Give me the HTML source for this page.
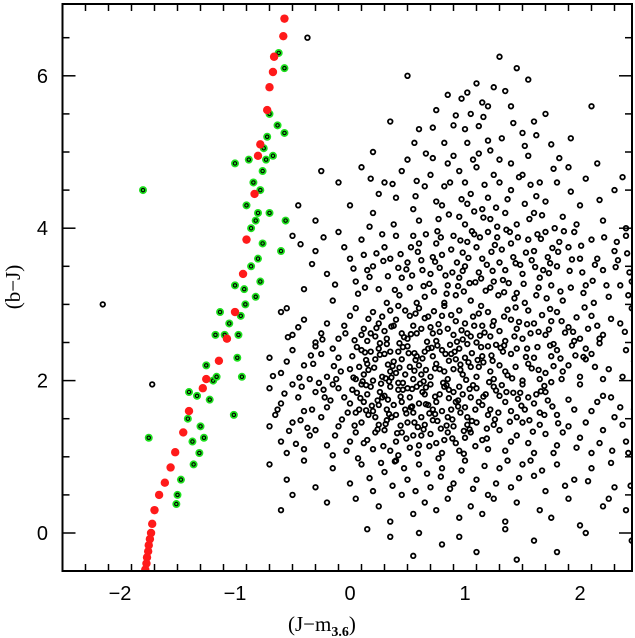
<!DOCTYPE html>
<html><head><meta charset="utf-8"><style>
html,body{margin:0;padding:0;background:#fff;}
svg{display:block;}
text{font-family:"Liberation Sans",sans-serif;fill:#000;}
</style></head><body>
<svg id="chart" width="635" height="638" viewBox="0 0 635 638" xmlns="http://www.w3.org/2000/svg">
<defs><clipPath id="clip"><rect x="62.5" y="4" width="569.5" height="567"/></clipPath></defs>
<g id="pts-black" clip-path="url(#clip)"></g>
<g id="pts-green" clip-path="url(#clip)"></g>
<g id="pts-red" clip-path="url(#clip)"></g>
<g id="axes"></g>
<text x="288" y="631" font-size="21" style="font-family:'Liberation Serif',serif">(J−m<tspan font-size="14" dy="5" font-weight="bold">3.6</tspan><tspan dy="-5">)</tspan></text>
<text transform="translate(20,287) rotate(-90)" text-anchor="middle" font-size="21" style="font-family:'Liberation Serif',serif">(b−J)</text>
</svg>
<script>
const xTicks=[-2,-1,0,1,2];
const yTicks=[0,2,4,6];
const redX=[-1.78,-1.77,-1.765,-1.755,-1.75,-1.74,-1.73,-1.72,-1.70,-1.66,-1.61,-1.56,-1.52,-1.45,-1.40,-1.28,-1.25,-1.14,-1.07,-1.00,-0.93,-0.90,-0.83,-0.80,-0.78,-0.72,-0.70,-0.67,-0.66,-0.58,-0.57];
const redY=[-0.48,-0.40,-0.32,-0.24,-0.16,-0.08,0.0,0.12,0.3,0.5,0.66,0.86,1.06,1.32,1.6,1.9,2.02,2.26,2.55,2.9,3.4,3.85,4.45,4.95,5.1,5.55,5.85,6.05,6.25,6.52,6.75];
const greenX=[-1.8,-1.75,-1.51,-1.50,-1.47,-1.36,-1.31,-1.27,-1.37,-1.41,-1.40,-1.33,-1.22,-1.19,-1.16,-1.17,-1.09,-1.01,-0.97,-0.95,-1.13,-1.00,-0.91,-0.82,-0.78,-0.86,-0.80,-0.76,-0.86,-0.82,-0.70,-0.60,-0.56,-0.90,-0.78,-0.84,-0.76,-1.00,-0.73,-0.67,-0.75,-0.72,-0.63,-0.57,-0.70,-0.62,-0.57,-0.80,-0.88,-0.92,-1.05,-0.98,-1.25,-1.30,-0.94];
const greenY=[4.5,1.25,0.38,0.5,0.7,0.9,1.05,1.25,1.2,1.5,1.85,1.8,1.75,2.0,2.05,2.6,2.6,1.55,2.6,2.85,2.9,3.25,3.0,3.1,3.3,3.5,3.6,3.8,4.0,4.1,4.2,3.7,4.1,4.3,4.5,4.6,4.75,4.85,4.9,4.95,5.05,5.2,5.35,5.25,5.5,6.3,6.1,4.2,4.9,3.2,2.75,2.3,2.2,1.4,2.05];
const blackPts=[
-2.15,3.0,-1.72,1.95,-0.37,6.5,0.5,6.0,1.3,6.25,0.97,5.7,1.1,5.9,1.2,5.6,1.25,5.85,1.05,5.5,0.75,5.55,1.4,5.6,1.6,5.4,1.75,5.1,2.1,5.6,0.85,5.75,1.15,5.65,1.35,5.8,0.9,5.35,0.6,5.3,1.5,5.25,1.0,5.3,1.2,5.15,1.7,5.5,2.5,5.6,0.2,5.0,1.45,6.1,1.55,5.95,0.35,5.4,
0.1,4.8,0.3,4.6,0.5,4.9,0.7,4.7,0.9,4.95,1.0,4.6,1.1,4.8,1.2,4.4,1.3,4.9,1.4,4.5,1.5,4.7,1.6,4.2,1.8,4.6,2.0,4.3,2.2,4.1,0.0,4.3,-0.3,4.1,0.2,4.2,0.4,4.4,0.6,4.1,0.8,4.3,0.95,4.15,1.05,4.45,1.25,4.7,1.35,4.2,1.45,4.05,1.7,4.35,1.9,4.8,2.3,4.5,0.65,4.55,0.85,4.85,1.15,4.25,1.55,4.95,0.45,4.75,0.25,4.45,0.75,4.35,1.0,4.05,1.3,4.6,1.65,4.6,1.85,4.15,2.05,4.65,2.4,4.0,-0.1,4.6,0.55,4.25,0.95,4.75,1.4,4.85,-0.45,4.3,1.12,4.98,0.82,4.55,1.62,4.42,1.92,4.48,2.15,4.85,0.38,4.05,1.22,4.12,1.52,4.32,0.18,4.65,0.72,4.92,1.02,4.32,1.78,4.0,2.52,4.25,-0.25,4.75,0.58,4.62,1.08,4.22,1.28,4.02,
-0.5,3.9,-0.3,3.7,-0.1,3.95,0.0,3.6,0.1,3.85,0.2,3.5,0.3,3.75,0.4,3.9,0.5,3.55,0.6,3.8,0.7,3.4,0.8,3.65,0.9,3.9,1.0,3.5,1.1,3.75,1.2,3.95,1.3,3.55,1.4,3.8,1.5,3.4,1.6,3.7,1.7,3.95,1.8,3.5,1.9,3.75,2.0,3.6,2.1,3.85,2.2,3.45,2.3,3.7,2.4,3.9,2.5,3.55,-0.2,3.4,0.05,3.3,0.25,3.2,0.45,3.35,0.65,3.1,0.85,3.25,1.05,3.05,1.25,3.3,1.45,3.15,1.65,3.35,1.85,3.05,2.05,3.25,2.25,3.1,2.45,3.3,-0.4,3.2,-0.15,3.05,0.15,3.45,0.35,3.6,0.55,3.9,0.75,3.8,0.95,3.35,1.15,3.6,1.35,3.45,1.55,3.85,1.75,3.25,1.95,3.95,2.15,3.6,2.35,3.25,0.12,3.65,0.32,3.02,0.52,3.22,0.72,3.62,0.92,3.12,1.12,3.42,1.32,3.72,1.52,3.02,1.72,3.62,1.92,3.22,2.12,3.02,2.32,3.82,-0.05,3.75,0.42,3.48,0.62,3.58,0.82,3.02,1.02,3.82,1.22,3.22,1.42,3.62,1.62,3.12,1.82,3.82,2.02,3.42,2.42,3.12,0.98,3.68,1.18,3.18,1.38,3.28,1.58,3.58,0.78,3.48,0.58,3.02,0.28,3.92,-0.55,2.95,2.6,3.3,1.08,3.92,1.48,3.52,0.88,3.72,1.68,3.45,1.28,3.88,
-0.6,2.9,-0.5,2.6,-0.4,2.8,-0.3,2.5,-0.2,2.75,-0.1,2.55,0.0,2.85,0.1,2.6,0.2,2.9,0.3,2.65,0.4,2.8,0.5,2.55,0.6,2.95,0.7,2.7,0.8,2.85,0.9,2.6,1.0,2.75,1.1,2.5,1.2,2.9,1.3,2.65,1.4,2.8,1.5,2.55,1.6,2.75,1.7,2.6,1.8,2.9,1.9,2.7,2.0,2.55,2.1,2.85,2.2,2.6,2.35,2.75,2.5,2.5,-0.45,2.7,-0.25,2.62,-0.05,2.72,0.15,2.52,0.35,2.92,0.55,2.72,0.75,2.52,0.95,2.92,1.15,2.72,1.35,2.52,1.55,2.92,1.75,2.78,1.95,2.52,2.15,2.72,2.45,2.95,0.05,2.95,0.25,2.75,0.45,2.62,0.65,2.82,0.85,2.68,1.05,2.58,1.25,2.78,1.45,2.68,0.12,2.68,0.32,2.55,0.52,2.85,0.72,2.62,0.92,2.78,1.12,2.88,0.22,2.58,0.42,2.98,0.62,2.68,0.82,2.98,1.02,2.62,1.22,2.58,
-0.7,2.3,-0.6,2.1,-0.5,2.4,-0.4,2.2,-0.3,2.45,-0.2,2.05,-0.1,2.3,0.0,2.15,0.1,2.4,0.2,2.0,0.3,2.35,0.4,2.1,0.5,2.45,0.6,2.2,0.7,2.05,0.8,2.4,0.9,2.15,1.0,2.3,1.1,2.05,1.2,2.45,1.3,2.2,1.4,2.35,1.5,2.0,1.6,2.3,1.7,2.1,1.8,2.4,1.9,2.2,2.0,2.05,2.1,2.35,2.25,2.15,2.4,2.4,-0.55,2.25,-0.35,2.02,-0.15,2.42,0.05,2.02,0.15,2.22,0.25,2.42,0.35,2.12,0.45,2.28,0.55,2.02,0.65,2.38,0.75,2.22,0.85,2.02,0.95,2.42,1.05,2.18,1.15,2.32,1.25,2.02,1.35,2.12,1.45,2.42,1.55,2.22,1.65,2.02,1.75,2.32,1.85,2.12,2.05,2.42,2.2,2.02,0.02,2.32,0.12,2.08,0.22,2.28,0.32,2.48,0.42,2.38,0.52,2.18,0.62,2.08,0.72,2.32,0.82,2.12,0.92,2.28,1.02,2.48,1.12,2.18,1.22,2.12,0.08,2.18,0.18,2.38,0.28,2.05,0.38,2.25,0.48,2.08,0.58,2.32,0.68,2.42,0.78,2.15,0.88,2.35,0.98,2.08,-0.08,2.12,-0.25,2.35,0.35,2.38,0.57,2.27,0.43,2.17,
-0.7,1.9,-0.6,1.7,-0.5,1.95,-0.4,1.6,-0.3,1.85,-0.2,1.65,-0.1,1.9,0.0,1.7,0.1,1.95,0.2,1.6,0.3,1.8,0.4,1.55,0.5,1.9,0.6,1.7,0.7,1.95,0.8,1.6,0.9,1.85,1.0,1.65,1.1,1.9,1.2,1.55,1.3,1.8,1.4,1.6,1.5,1.95,1.6,1.7,1.7,1.85,1.8,1.55,1.9,1.75,2.0,1.95,2.1,1.6,2.2,1.8,2.35,1.65,2.5,1.9,-0.65,1.55,-0.45,1.78,-0.25,1.52,-0.05,1.78,0.05,1.58,0.15,1.82,0.25,1.68,0.35,1.92,0.45,1.72,0.55,1.58,0.65,1.82,0.75,1.72,0.85,1.52,0.95,1.92,1.05,1.78,1.15,1.68,1.25,1.92,1.35,1.72,1.45,1.52,1.55,1.78,1.65,1.58,1.75,1.98,1.95,1.62,2.15,1.72,2.3,1.52,0.02,1.88,0.12,1.72,0.22,1.52,0.32,1.62,0.42,1.88,0.52,1.78,0.62,1.52,0.72,1.62,0.82,1.92,0.92,1.72,1.02,1.52,0.08,1.62,0.18,1.92,0.28,1.78,0.38,1.68,0.48,1.62,0.58,1.92,0.68,1.68,0.78,1.82,0.88,1.62,0.98,1.82,0.33,1.75,0.53,1.65,0.63,1.85,-0.15,1.95,1.18,1.82,
-0.7,1.4,-0.6,1.2,-0.5,1.45,-0.4,1.1,-0.3,1.35,-0.2,1.15,-0.1,1.4,0.0,1.2,0.1,1.45,0.2,1.1,0.3,1.35,0.4,1.2,0.5,1.45,0.6,1.15,0.7,1.3,0.8,1.05,0.9,1.4,1.0,1.25,1.1,1.45,1.2,1.1,1.3,1.35,1.4,1.2,1.5,1.45,1.6,1.05,1.7,1.3,1.8,1.15,1.9,1.4,2.0,1.25,2.1,1.05,2.2,1.35,2.4,1.2,2.55,1.0,-0.55,1.05,-0.35,1.28,-0.15,1.02,0.05,1.32,0.15,1.22,0.25,1.42,0.35,1.08,0.45,1.32,0.55,1.28,0.65,1.42,0.75,1.18,0.85,1.32,0.95,1.08,1.05,1.32,1.15,1.22,1.25,1.42,1.35,1.08,1.45,1.28,1.55,1.18,1.65,1.42,1.85,1.32,2.05,1.45,0.12,1.18,0.32,1.48,0.42,1.02,0.62,1.28,0.72,1.48,0.92,1.18,1.02,1.42,0.52,1.12,0.22,1.32,0.82,1.22,
-0.7,0.9,-0.55,0.7,-0.4,0.95,-0.3,0.6,-0.15,0.85,0.0,0.65,0.1,0.9,0.2,0.55,0.3,0.8,0.4,0.95,0.5,0.7,0.6,0.9,0.7,0.6,0.8,0.85,0.9,0.65,1.0,0.95,1.1,0.7,1.2,0.5,1.3,0.85,1.4,0.6,1.5,0.9,1.6,0.75,1.7,0.55,1.8,0.9,1.95,0.7,2.1,0.85,2.3,0.6,2.5,0.8,-0.5,0.5,-0.2,0.4,0.05,0.45,0.25,0.35,0.45,0.5,0.65,0.4,0.85,0.45,1.05,0.35,1.25,0.45,1.45,0.4,1.65,0.3,1.9,0.45,2.2,0.35,0.55,0.25,0.95,0.2,1.35,0.15,1.15,0.25,0.35,0.15,0.75,0.3,1.75,0.2,2.4,0.3,
-0.6,0.3,0.15,0.05,0.6,0.0,0.95,-0.05,1.35,0.05,1.6,-0.1,1.1,-0.25,2.05,0.0,0.8,-0.15,0.35,-0.05,1.8,-0.25,2.45,-0.1,1.45,-0.35,0.55,-0.3,2.0,0.1,
0.03,2.04,0.14,2.27,0.27,1.96,0.37,2.19,0.46,1.88,0.56,2.13,0.66,1.91,0.74,2.16,0.86,1.88,0.96,2.21,1.07,1.94,1.16,2.24,1.27,1.87,1.37,2.07,1.48,1.84,1.58,2.16,1.69,1.93,1.77,2.19,0.09,1.77,0.19,1.67,0.31,1.43,0.41,1.31,0.49,1.57,0.59,1.39,0.69,1.57,0.79,1.37,0.89,1.49,0.99,1.34,1.09,1.62,1.19,1.37,1.29,1.58,1.39,1.46,1.49,1.67,1.59,1.33,1.69,1.55,1.81,1.44,-0.07,1.49,-0.17,1.74,-0.27,1.97,-0.37,1.38,-0.47,1.17,-0.57,1.83,-0.67,2.06,0.04,2.53,0.16,2.81,0.26,2.49,0.36,2.71,0.47,2.57,0.57,2.88,0.67,2.51,0.77,2.74,0.87,2.47,0.97,2.66,1.07,2.84,1.17,2.63,1.27,2.47,1.37,2.93,1.47,2.77,1.57,2.62,1.67,2.86,1.77,2.48,1.87,2.63,1.97,2.83,2.07,2.68,2.17,2.49,2.27,2.81,2.39,2.64,
0.07,3.14,0.17,3.36,0.29,3.57,0.39,3.19,0.49,3.46,0.59,3.69,0.69,3.27,0.79,3.88,0.89,3.42,0.99,3.17,1.09,3.29,1.19,3.52,1.29,3.12,1.39,3.95,1.51,3.27,1.61,3.49,1.71,3.08,1.81,3.69,1.91,3.44,2.01,3.77,2.11,3.31,2.21,3.88,2.31,3.49,2.41,3.67,-0.33,3.53,-0.43,3.79,-0.13,3.26,-0.23,3.88,0.97,4.38,1.17,4.57,1.37,4.38,1.57,4.57,1.77,4.78,0.77,4.12,0.57,4.42,0.37,4.58,0.17,4.02,1.27,4.27,1.47,4.67,1.67,4.17,1.07,4.9,0.87,4.6,1.97,4.05,2.17,4.37,2.37,4.67,
-0.63,1.62,-0.53,1.34,-0.43,1.48,-0.33,1.62,-0.23,1.88,-0.13,1.28,-0.03,1.08,0.07,0.98,0.17,0.72,0.27,0.92,0.37,0.62,0.47,0.85,0.57,0.55,0.67,0.78,0.77,0.98,0.87,0.58,0.97,0.82,1.07,0.58,1.17,0.88,1.27,0.65,1.37,0.95,1.47,0.72,1.57,0.95,1.67,0.82,1.77,1.05,1.87,0.62,1.97,1.12,2.07,0.68,2.17,1.18,2.27,0.92,2.37,1.42,2.47,1.62,2.27,1.78,2.37,2.05,2.47,2.25,2.17,2.55,2.05,2.28,1.96,2.33,
0.11,1.99,0.21,2.17,0.31,2.03,0.42,1.97,0.51,2.36,0.61,1.96,0.71,2.43,0.81,1.97,0.91,2.38,1.01,2.01,1.11,2.27,1.21,1.98,1.31,2.43,1.41,2.03,0.16,1.55,0.26,1.85,0.36,1.52,0.46,1.97,0.56,1.45,0.66,1.69,0.76,1.47,0.86,1.77,0.96,1.58,1.06,1.47,1.16,1.79,1.26,1.49,1.36,1.85,1.46,1.76,1.56,1.48,1.66,1.86,1.76,1.66,-0.14,2.19,-0.24,2.54,-0.34,2.33,-0.44,2.04,-0.54,2.57,0.13,2.37,0.23,2.69,0.33,2.21,0.43,2.49,0.53,2.61,0.63,2.29,0.73,2.91,0.83,2.35,0.93,2.51,1.03,2.24,1.13,2.59,1.23,2.33,1.33,2.38,1.43,2.58,1.53,2.31,1.63,2.44,1.73,2.67,1.83,2.29,1.93,2.46,2.03,2.31,2.13,2.18,
1.03,3.61,1.13,3.88,1.23,3.69,1.33,3.32,1.43,3.08,1.53,3.68,1.63,3.92,1.73,3.41,1.83,3.17,1.93,3.59,0.93,3.55,0.83,3.38,0.73,3.17,0.63,3.45,0.53,3.75,0.43,3.12,0.33,3.37,0.23,3.67,0.13,3.22,0.03,3.47,2.03,3.15,2.13,3.52,2.23,3.25,2.33,3.58,2.43,3.42,2.53,3.05,2.53,2.75,2.48,2.12,2.53,1.35,2.44,0.62,2.42,1.05,2.28,1.08,2.25,0.45,
0.06,1.84,0.14,1.94,0.24,1.74,0.34,1.99,0.44,1.79,0.54,1.89,0.64,1.99,0.74,1.79,0.84,1.94,0.94,1.74,1.04,1.89,0.06,2.44,0.16,2.14,0.26,2.34,0.36,2.04,0.46,2.44,0.56,2.36,0.66,2.14,0.76,2.46,0.86,2.26,0.96,2.14,1.06,2.36,0.04,1.41,0.14,1.61,0.24,1.36,0.34,1.56,0.44,1.41,0.54,1.66,0.64,1.36,0.74,1.56,0.84,1.41,0.94,1.66,1.04,1.36,0.18,2.62,0.38,2.72,0.48,2.92,0.58,2.62,0.68,2.84,0.78,2.64,0.88,2.86,0.98,2.54,1.08,2.72,0.28,2.84,-0.04,2.62,-0.12,2.02,-0.22,1.78,-0.32,2.22,-0.42,1.92,-0.02,1.58,0.29,1.14,0.49,1.24,0.69,1.14,0.89,1.24,1.09,1.14,0.39,0.94,0.59,1.04,0.79,0.74,0.99,1.04,1.19,1.24,1.14,2.44,1.24,2.26,1.34,2.46,1.44,2.18,1.54,2.42,1.64,2.14,1.74,2.46,1.84,2.02,1.12,1.72,1.22,1.62,1.32,1.94,1.42,1.84,1.52,1.62,1.62,1.82,1.72,1.74,1.14,2.98,1.24,2.72,1.34,2.84,1.44,2.96,1.54,2.74,1.64,2.64,1.74,2.94,1.84,2.78,1.94,2.64,2.04,2.96,
1.16,4.14,1.06,3.96,0.96,3.84,1.26,3.78,1.36,3.98,1.46,3.88,1.56,4.12,1.66,3.86,1.76,3.74,1.86,3.96,0.86,4.18,0.76,3.96,0.66,3.92,1.14,3.34,1.24,3.44,1.34,3.16,1.44,3.54,1.64,3.22,1.74,3.54,0.74,3.56,0.84,3.14,0.94,3.24,0.64,3.24,0.54,3.38,0.44,3.66,1.04,3.28,0.98,3.44,1.32,5.18,1.22,5.02,1.12,5.34,1.02,5.12,0.92,5.48,0.82,5.12,0.72,5.32,1.42,5.38,1.52,5.08,1.62,5.22,1.82,4.92,1.92,5.18,1.02,5.78,1.16,5.46,0.66,4.98,0.56,5.12
];
const X0=62.5,Y0=571,XR=632,YT=4;
const xs=v=>X0+(v+2.5)*115;
const ys=v=>533-v*76.2;
const NS="http://www.w3.org/2000/svg";
function mk(tag,attrs,parent){const e=document.createElementNS(NS,tag);for(const k in attrs)e.setAttribute(k,attrs[k]);parent.appendChild(e);return e;}
const gb=document.getElementById('pts-black');
for(let i=0;i<blackPts.length;i+=2){
 const c=mk('circle',{cx:xs(blackPts[i]),cy:ys(blackPts[i+1]),r:2.3,fill:'none',stroke:'#000','stroke-width':1.8},gb);
 
 
}
const gg=document.getElementById('pts-green');
for(let i=0;i<greenX.length;i++){
 const c=mk('circle',{cx:xs(greenX[i]),cy:ys(greenY[i]),r:4,fill:'#1ee01e'},gg);
 
 
 const d=mk('circle',{cx:xs(greenX[i]),cy:ys(greenY[i]),r:1.7,fill:'none',stroke:'#000','stroke-width':1.1},gg);
 
 
}
const gr=document.getElementById('pts-red');
for(let i=0;i<redX.length;i++){
 const c=mk('circle',{cx:xs(redX[i]),cy:ys(redY[i]),r:4.2,fill:'#ff1a1a'},gr);
 
 
}
const ga=document.getElementById('axes');
const fr=mk('rect',{x:X0,y:YT,width:XR-X0,height:Y0-YT,fill:'none',stroke:'#000','stroke-width':2},ga);


for(let k=-25;k<=25;k+=2){
 const v=k/10;const x=xs(v);const maj=Math.abs(v-Math.round(v))<1e-6;const L=maj?13:7;
 mk('line',{x1:x,y1:Y0,x2:x,y2:Y0-L,stroke:'#000','stroke-width':1.5},ga);
 mk('line',{x1:x,y1:YT,x2:x,y2:YT+L,stroke:'#000','stroke-width':1.5},ga);
}
for(let k=-1;k<=13;k++){
 const v=k/2;const y=ys(v);const maj=(k%4===0);const L=maj?13:7;
 mk('line',{x1:X0,y1:y,x2:X0+L,y2:y,stroke:'#000','stroke-width':1.5},ga);
 mk('line',{x1:XR,y1:y,x2:XR-L,y2:y,stroke:'#000','stroke-width':1.5},ga);
}
xTicks.forEach(v=>{const t=mk('text',{x:xs(v),y:600,'text-anchor':'middle','font-size':20},ga);t.textContent=(v<0?'−':'')+Math.abs(v);
 
 });
yTicks.forEach(v=>{const t=mk('text',{x:48,y:ys(v)+7,'text-anchor':'end','font-size':20},ga);t.textContent=v;
 
 });
</script>
</body></html>
